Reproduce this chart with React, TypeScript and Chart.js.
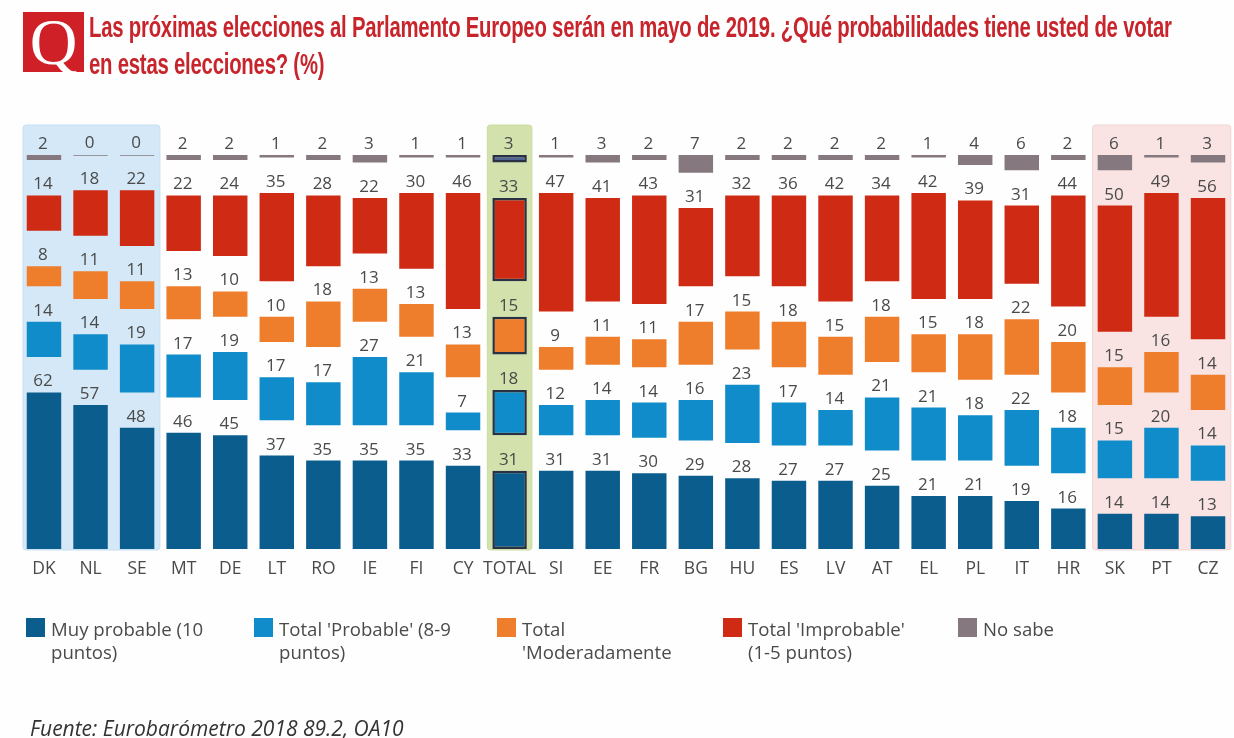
import React, { useEffect, useRef } from "react";
import { Chart, registerables } from "chart.js";

Chart.register(...registerables);

const countries = ["DK","NL","SE","MT","DE","LT","RO","IE","FI","CY","TOTAL","SI","EE","FR","BG","HU","ES","LV","AT","EL","PL","IT","HR","SK","PT","CZ"];
const muyProbable = [62,57,48,46,45,37,35,35,35,33,31,31,31,30,29,28,27,27,25,21,21,19,16,14,14,13];
const probable = [14,14,19,17,19,17,17,27,21,7,18,12,14,14,16,23,17,14,21,21,18,22,18,15,20,14];
const moderadamente = [8,11,11,13,10,10,18,13,13,13,15,9,11,11,17,15,18,15,18,15,18,22,20,15,16,14];
const improbable = [14,18,22,22,24,35,28,22,30,46,33,47,41,43,31,32,36,42,34,42,39,31,44,50,49,56];
const noSabe = [2,0,0,2,2,1,2,3,1,1,3,1,3,2,7,2,2,2,2,1,4,6,2,6,1,3];
const gapUnits = [14,14,14,14,14,14,14,14,14,14,14,14,14,14,14,14,14,14,14,14,14,14,14,14,14,14];

const titleLine1 = "Las próximas elecciones al Parlamento Europeo serán en mayo de 2019. ¿Qué probabilidades tiene usted de votar";
const titleLine2 = "en estas elecciones? (%)";
const source = "Fuente: Eurobarómetro 2018 89.2, OA10";

const DARK = "#0b5d8e";
const BLUE = "#0f8cc9";
const ORANGE = "#ee7e2c";
const RED = "#cf2a13";
const GREY = "#85787f";
const TOTAL_GREY = "#50658f";
const OUTLINE = "#2a3145";
const TEXT = "#4a4a4a";
const FONT = '"Open Sans", sans-serif';

const legendItems = [
  { lines: ["Muy probable (10", "puntos)"], color: DARK, x: 26 },
  { lines: ["Total 'Probable' (8-9", "puntos)"], color: BLUE, x: 254 },
  { lines: ["Total", "'Moderadamente"], color: ORANGE, x: 497 },
  { lines: ["Total 'Improbable'", "(1-5 puntos)"], color: RED, x: 723 },
  { lines: ["No sabe"], color: GREY, x: 958 },
];

const isTotal = (i: number) => countries[i] === "TOTAL";

const panels = [
  { from: "DK", to: "SE", color: "#d4e8f7", edge: "#c6e0f2", insetL: 2.3, insetR: 0.5 },
  { from: "TOTAL", to: "TOTAL", color: "#d3e2ad", edge: "#cadca0", insetL: 1, insetR: 1 },
  { from: "SK", to: "CZ", color: "#f9e4e3", edge: "#f0d6d6", insetL: 1, insetR: 0.5 },
];

const panelPlugin = {
  id: "panels",
  beforeDatasetsDraw(chart: any) {
    const { ctx, scales, chartArea } = chart;
    const x = scales.x;
    const half = (x.getPixelForValue(1) - x.getPixelForValue(0)) / 2;
    panels.forEach((p) => {
      const l = x.getPixelForValue(countries.indexOf(p.from)) - half + p.insetL;
      const r = x.getPixelForValue(countries.indexOf(p.to)) + half - p.insetR;
      ctx.save();
      ctx.fillStyle = p.color;
      ctx.strokeStyle = p.edge;
      ctx.lineWidth = 1;
      ctx.beginPath();
      ctx.roundRect(l, 125, r - l, chartArea.bottom + 1 - 125, 3);
      ctx.fill();
      ctx.stroke();
      ctx.restore();
    });
  },
};

const valueLabelPlugin = {
  id: "valueLabels",
  afterDatasetsDraw(chart: any) {
    const { ctx } = chart;
    chart.data.datasets.forEach((ds: any, di: number) => {
      if (ds.spacer) return;
      const meta = chart.getDatasetMeta(di);
      meta.data.forEach((el: any, i: number) => {
        ctx.save();
        ctx.font = `17px ${FONT}`;
        ctx.fillStyle = TEXT;
        ctx.textAlign = "center";
        ctx.textBaseline = "alphabetic";
        ctx.fillText(String(ds.data[i]), el.x - 1, el.y - 6);
        ctx.restore();
      });
    });
  },
};

function series(label: string, data: number[], color: string, totalColor?: string) {
  return {
    label,
    data,
    spacer: false,
    borderSkipped: false,
    backgroundColor: data.map((_, i) => (isTotal(i) && totalColor ? totalColor : color)),
    borderColor: data.map((_, i) => (isTotal(i) ? OUTLINE : color)),
    borderWidth: data.map((_, i) => (isTotal(i) ? 2.5 : 0)),
  };
}
function spacer(label: string) {
  return { label, data: gapUnits, spacer: true, backgroundColor: "transparent", borderWidth: 0 };
}

export default function App() {
  const ref = useRef<HTMLCanvasElement>(null);
  useEffect(() => {
    if (!ref.current) return;
    const chart = new Chart(ref.current, {
      type: "bar",
      data: {
        labels: countries,
        datasets: [
          series("Muy probable (10 puntos)", muyProbable, DARK),
          spacer("gap1"),
          series("Total 'Probable' (8-9 puntos)", probable, BLUE),
          spacer("gap2"),
          series("Total 'Moderadamente'", moderadamente, ORANGE),
          spacer("gap3"),
          series("Total 'Improbable' (1-5 puntos)", improbable, RED),
          spacer("gap4"),
          { ...series("No sabe", noSabe, GREY, TOTAL_GREY), minBarLength: 1.5 },
        ] as any,
      },
      options: {
        responsive: false,
        animation: false,
        barPercentage: 0.74,
        categoryPercentage: 1,
        layout: { padding: { left: 20.7, right: 2.7, top: 155, bottom: 149 } },
        plugins: { legend: { display: false }, tooltip: { enabled: false }, title: { display: false } },
        scales: {
          x: {
            stacked: true,
            grid: { display: false, drawTicks: false },
            border: { display: false },
            afterFit: (s: any) => { s.height = 40; },
            ticks: {
              autoSkip: false,
              maxRotation: 0,
              padding: 10,
              color: TEXT,
              font: { family: FONT, size: 17.5 },
            },
          },
          y: { stacked: true, display: false, min: 0, max: 156 },
        },
      } as any,
      plugins: [panelPlugin, valueLabelPlugin],
    });
    return () => chart.destroy();
  }, []);

  const abs = (s: React.CSSProperties): React.CSSProperties => ({ position: "absolute", whiteSpace: "nowrap", ...s });

  return (
    <div style={{ position: "fixed", left: 0, top: 0, width: 1234, height: 738, overflow: "hidden", background: "#fefefe", fontFamily: FONT }}>
      <canvas ref={ref} width={1234} height={738} style={{ position: "absolute", left: 0, top: 0, display: "block" }} />
      <div style={abs({ left: 23, top: 12, width: 61, height: 60, background: "#cf2027", color: "#fff", fontFamily: '"Liberation Serif", serif', fontSize: 66, lineHeight: "60px", textAlign: "center" })}>Q</div>
      {[titleLine1, titleLine2].map((t, i) => (
        <div key={i} style={abs({ left: 89, top: 9 + i * 37, color: "#c8242b", fontFamily: '"Liberation Sans", sans-serif', fontWeight: 700, fontSize: 29, lineHeight: "36px", letterSpacing: -0.3, transform: "scaleX(0.7)", transformOrigin: "left center" })}>{t}</div>
      ))}
      {legendItems.map((item) => (
        <React.Fragment key={item.x}>
          <div style={abs({ left: item.x, top: 618, width: 19, height: 19, background: item.color })} />
          {item.lines.map((l, i) => (
            <div key={i} style={abs({ left: item.x + 25, top: 617 + i * 23, color: TEXT, fontSize: 18.6, lineHeight: "23px" })}>{l}</div>
          ))}
        </React.Fragment>
      ))}
      <div style={abs({ left: 30, top: 715, color: "#333", fontStyle: "italic", fontSize: 21, lineHeight: "26px" })}>{source}</div>
    </div>
  );
}
